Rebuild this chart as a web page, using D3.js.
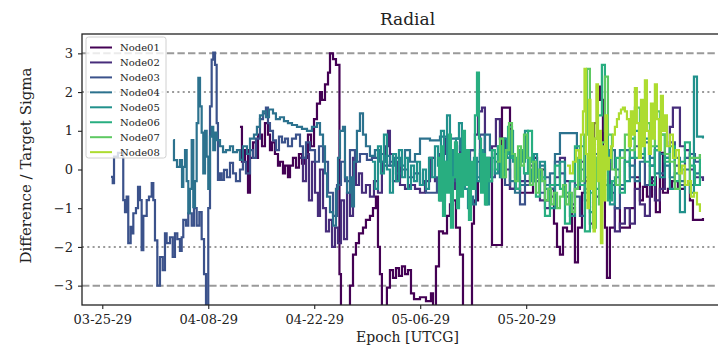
<!DOCTYPE html>
<html>
<head>
<meta charset="utf-8">
<script src="https://cdn.jsdelivr.net/npm/d3@7"></script>
<style>
  body { margin: 0; background: #fff; }
  svg { display: block; font-family: "DejaVu Serif", serif; }
</style>
</head>
<body>
<svg id="chart" width="718" height="360"></svg>
<script>
// Radial residuals (difference / target sigma) per node.
// Each point: [days since 2029-03-25 00:00 UTC, value]
const seriesNames = ["Node01", "Node02", "Node03", "Node04", "Node05", "Node06", "Node07", "Node08"];
const seriesColors = ["#440154", "#472d7b", "#3b528b", "#2c728e", "#21918c", "#28ae80", "#5ec962", "#addc30"];

const node01 = [
  [18.19,1.1],[18.45,0.2],[18.85,0.5],[19.25,-0.6],[19.51,0.3],[19.91,0.7],[20.3,0.3],[20.57,0.9],[21.1,0.6],[21.49,1.2],
  [21.89,0.9],[22.15,0.5],[22.42,0.7],[22.81,0.4],[23.21,0.1],[23.47,0.2],[23.87,-0.1],[24.14,0.1],[24.53,-0.2],[24.8,0.1],
  [25.19,0.3],[25.59,0.05],[25.98,0.4],[26.38,0.15],[26.78,0.3],[27.17,0.9],[27.57,0.6],[27.97,1.3],[28.36,1.7],[28.76,2.0],
  [29.02,1.8],[29.42,2.2],[29.82,2.5],[30.08,3.0],[30.48,2.85],[30.87,2.7],[31.33,-2.7],[31.53,-3.6],[32.59,-3.6],[32.72,-3.0],
  [33.12,-2.2],[33.51,-1.9],[33.91,-1.65],[34.44,-1.5],[34.83,-1.3],[35.36,-1.2],[35.76,-1.0],[36.15,-0.7],[36.42,-2.0],[36.68,-2.7],
  [36.94,-3.6],[37.47,-3.6],[37.6,-3.05],[38.0,-2.6],[38.4,-2.8],[38.8,-2.55],[39.19,-2.75],[39.59,-2.5],[39.99,-2.7],[40.38,-2.6],
  [40.78,-3.2],[41.18,-3.35],[41.97,-3.3],[42.76,-3.4],[43.42,-3.2],[43.69,-3.6],[44.08,-2.5],[44.48,-1.6],[45.01,-1.65],[45.54,-1.2],
  [45.93,-0.9],[46.33,-0.8],[46.72,-1.5],[47.25,-2.2],[47.65,-3.6],[48.57,-3.6],[48.84,-1.4],[49.1,-0.8],[49.63,-0.3],[50.16,0.2],
  [50.69,-0.4],[50.95,0.0],[51.48,-1.95],[52.8,1.6],[53.86,-0.5],[55.18,-0.6],[56.5,-0.6],[56.9,0.3],[57.43,-0.2],[57.82,0.0],
  [58.48,-0.8],[59.14,-0.5],[59.67,-1.4],[60.07,-2.0],[60.46,-2.2],[60.86,-1.5],[61.39,-1.6],[62.05,-1.0],[62.44,-2.4],[62.84,-1.5],
  [63.37,-0.6],[63.76,-0.3],[64.42,0.5],[64.95,1.2],[65.35,2.14],[65.74,1.8],[66.14,0.0],[66.4,-1.5],[66.67,-2.8],[67.06,-1.5],
  [67.72,-1.0],[68.38,-1.5],[69.7,-1.0],[70.36,-0.2],[71.02,-0.8],[71.42,-0.45],[71.95,-0.7],[72.61,-0.2],[73.13,-1.1],[73.66,0.43],
  [74.06,-0.6],[74.72,-0.5],[75.25,-0.3],[76.04,-0.5],[76.97,-0.4],[77.63,-0.8],[78.03,-1.3],[78.69,-1.3],[79.35,-1.25]
];

const node02 = [
  [26.12,0.3],[26.51,-0.3],[26.91,0.4],[27.3,-0.8],[27.7,0.2],[28.1,-0.6],[28.49,-1.2],[28.76,0.0],[29.16,-1.0],[29.55,-1.6],
  [29.95,-1.3],[30.35,-2.0],[30.74,-1.5],[31.14,-1.9],[31.53,-0.8],[31.93,-1.8],[32.33,-0.6],[32.72,-1.2],[33.12,0.3],[33.51,-0.4],
  [33.91,-0.1],[34.31,-0.6],[34.83,-0.4],[35.36,-0.7],[35.89,-0.3],[36.42,-0.6],[36.94,0.2],[37.34,0.6],[37.74,1.0],[38.0,0.4],
  [38.4,-0.3],[38.93,0.2],[39.33,-0.4],[39.99,-0.5],[40.65,-0.4],[41.31,-0.5],[41.97,-0.6],[42.63,-0.3],[43.29,0.3],[43.95,-0.3],
  [44.61,0.4],[45.27,0.8],[45.93,0.3],[46.59,-0.5],[47.25,0.6],[47.91,-0.2],[48.57,0.5],[49.23,0.9],[49.63,1.5],[50.16,1.6],
  [50.55,0.2],[50.95,-0.3],[51.48,0.6],[52.0,1.3],[52.53,0.8],[53.2,0.0],[53.86,-0.5],[54.52,0.2],[55.18,-0.3],[56.5,-0.2],
  [57.82,-0.8],[58.48,-1.0],[59.14,-0.7],[59.8,-0.2],[60.46,0.3],[61.12,-0.3],[61.78,-0.9],[62.44,-0.5],[63.1,0.2],[63.76,-0.8],
  [64.42,-1.4],[65.08,-0.7],[65.74,-0.5],[66.4,0.1],[67.06,-0.6],[67.72,-1.6],[68.38,-1.4],[69.04,-1.0],[69.7,-1.4],[70.36,-0.5],
  [71.02,-0.9],[71.68,-1.2],[72.34,-0.3],[73.0,-0.8],[73.66,-0.5],[74.32,0.4],[74.98,1.1],[75.38,1.6],[76.31,0.6],[76.97,0.5],
  [77.63,0.0],[78.29,-0.2],[79.35,-0.3]
];

const node03 = [
  [1.15,-0.19],[1.38,-0.35],[1.55,0.33],[2.07,0.43],[2.73,0.43],[2.77,-0.79],[3.0,-1.1],[3.22,-0.7],[3.43,-1.9],[3.75,-1.48],
  [4.01,-1.65],[4.1,-1.13],[4.45,-1.0],[4.72,-0.45],[4.98,-0.79],[5.2,-2.08],[5.42,-1.2],[5.87,-0.79],[6.17,-0.7],[6.53,-0.35],
  [6.74,-0.79],[6.96,-1.83],[7.27,-3.0],[7.62,-2.26],[7.98,-2.6],[8.28,-1.65],[8.5,-1.9],[8.94,-1.75],[9.3,-2.26],[9.6,-1.65],
  [9.91,-1.8],[10.26,-2.1],[10.49,-1.75],[10.7,-1.3],[11.06,-1.45],[11.36,-1.13],[11.81,-1.45],[12.11,-1.0],[12.47,-1.45],[12.82,-1.1],
  [13.13,-1.8],[13.44,-2.7],[13.7,-3.6],[14.0,-1.0],[14.23,1.63],[14.45,2.84],[14.66,3.02],[14.89,2.7],[15.11,1.2],[15.28,-0.27],
  [15.55,-0.1],[15.77,-0.27],[16.08,-0.01],[16.47,-0.2],[16.87,0.17],[17.27,-0.1],[17.66,-0.3],[18.19,0.0],[18.58,0.2],[18.98,-0.1],
  [19.51,0.5],[19.91,0.3],[20.3,0.8],[20.83,1.3],[21.23,1.45],[21.62,1.6],[21.89,1.2],[22.15,1.0],[22.55,0.75],[22.94,0.5],
  [23.34,0.85],[23.74,0.7],[24.14,0.8],[24.53,0.6],[25.06,0.8],[25.59,0.9],[26.12,0.6],[26.51,0.3],[26.91,0.7],[27.44,0.5],
  [28.1,0.2],[28.63,0.6],[29.16,0.2],[29.82,-0.6],[30.48,-1.2],[31.01,-0.4],[31.53,0.2],[32.06,-0.3],[32.72,0.5],[33.38,0.2],
  [34.04,0.4],[34.96,0.25],[35.62,0.3],[36.42,0.4],[37.21,0.1],[38.0,0.2],[38.8,-0.1],[39.59,0.0],[40.38,-0.2],[41.18,-0.1],
  [41.97,-0.4],[42.76,-0.6],[43.56,-0.6],[44.21,-0.2],[44.61,-0.8],[45.27,-0.5],[45.93,0.1],[46.59,-0.3],[47.25,0.4],[47.91,0.0],
  [48.57,0.5],[49.23,0.2],[49.89,0.9],[50.55,0.3],[51.21,-0.2],[51.87,0.4],[52.53,0.0],[53.2,-0.4],[53.86,0.3],[54.52,-0.2],
  [55.18,-0.9],[55.84,-0.4],[56.5,0.1],[57.16,-0.3],[57.82,-0.6],[58.48,-0.2],[59.14,-0.5],[59.8,0.2],[60.46,-0.1],[61.12,-0.7],
  [61.78,-0.3],[62.44,-0.7],[63.1,-1.2],[63.76,-0.5],[64.42,0.7],[65.08,0.3],[65.74,-0.3],[66.4,0.5],[67.06,-0.4],[67.72,-1.0],
  [68.38,-0.5],[69.04,0.2],[69.7,-0.2],[70.36,0.6],[71.02,0.3],[71.68,-0.4],[72.34,0.1],[73.0,0.5],[73.66,-0.1],[74.32,0.3],
  [74.98,0.7],[75.64,0.1],[76.31,-0.4],[76.97,0.3],[77.63,0.4],[78.29,0.2],[78.95,0.25]
];

const node04 = [
  [9.38,0.76],[9.47,0.24],[9.87,0.07],[10.26,0.24],[10.53,-0.45],[10.7,0.07],[10.93,0.5],[11.15,-0.3],[11.36,-1.13],[11.58,-0.5],
  [11.81,0.76],[12.02,-0.97],[12.25,-0.3],[12.47,1.2],[12.69,2.37],[12.91,1.63],[13.13,0.95],[13.34,-0.1],[13.57,1.0],[13.79,0.33],
  [14.0,-0.5],[14.23,0.85],[14.45,1.1],[14.66,0.5],[14.89,0.95],[15.15,0.76],[15.55,0.6],[15.95,0.45],[16.34,0.5],[16.87,0.6],
  [17.27,0.45],[17.79,0.5],[18.19,0.25],[18.58,0.6],[19.11,0.4],[19.51,0.8],[20.04,0.9],[20.43,1.1],[20.83,1.4],[21.23,1.5],
  [21.62,1.35],[22.02,1.55],[22.55,1.45],[22.94,1.3],[23.47,1.35],[24.0,1.25],[24.53,1.2],[25.06,1.15],[25.72,1.1],[26.38,1.05],
  [27.04,1.0],[27.7,1.1],[28.36,1.2],[28.76,0.9],[29.16,0.6],[29.42,-0.1],[29.69,-0.7],[30.08,-1.1],[30.48,-1.45],[30.87,-0.5],
  [31.14,0.3],[31.4,1.0],[31.8,1.1],[32.06,-0.2],[32.33,-0.6],[32.72,-0.2],[32.98,-0.95],[33.25,0.2],[33.64,1.0],[34.04,1.45],
  [34.44,0.9],[34.83,0.6],[35.36,0.35],[36.02,0.5],[36.68,0.2],[37.34,0.35],[38.0,0.1],[38.66,0.3],[39.33,0.1],[39.99,0.5],
  [40.65,0.2],[41.31,0.4],[41.97,0.8],[43.29,0.75],[44.61,0.85],[45.93,0.8],[47.25,0.5],[47.65,-0.3],[48.04,0.3],[48.57,-0.7],
  [48.97,-0.9],[49.36,-0.2],[49.89,0.4],[50.55,0.9],[51.21,0.5],[51.87,0.2],[52.53,-0.2],[53.2,0.3],[53.86,-0.3],[54.52,-0.6],
  [55.18,-0.4],[55.84,-0.1],[56.5,0.2],[57.16,-0.2],[57.82,0.1],[58.48,-0.4],[59.14,-0.1],[59.8,0.4],[60.46,0.94],[61.78,0.94],
  [62.7,0.5],[63.1,0.0],[63.76,-0.6],[64.42,-0.2],[65.08,0.4],[65.74,-0.5],[66.4,0.2],[67.06,0.5],[67.72,0.0],[68.38,-0.4],
  [69.04,0.5],[69.7,0.1],[70.36,-0.3],[71.02,0.2],[71.68,0.7],[72.34,0.3],[73.0,-0.1],[73.66,0.4],[74.32,0.1],[74.98,-0.2],
  [75.64,0.3],[76.31,-0.3],[76.97,0.0],[77.63,-0.4],[78.29,-0.1],[78.95,0.0]
];

const node05 = [
  [35.62,0.2],[36.02,-0.5],[36.42,0.6],[36.81,-0.1],[37.21,0.9],[37.6,0.0],[38.0,-0.6],[38.4,0.4],[38.8,-0.3],[39.19,0.5],
  [39.59,-0.2],[39.99,0.3],[40.38,-0.5],[40.78,0.1],[41.18,-0.3],[41.58,0.2],[41.97,-0.4],[42.37,0.0],[42.76,-0.5],[43.16,0.3],
  [43.56,-0.2],[43.95,0.6],[44.35,0.1],[44.74,1.0],[45.14,0.2],[45.54,1.4],[45.93,0.5],[46.33,-0.2],[46.72,0.8],[47.12,1.2],
  [47.51,0.4],[47.91,-0.5],[48.31,-1.0],[48.7,-0.4],[49.1,0.3],[49.5,-0.3],[49.89,0.5],[50.29,-0.2],[50.69,-0.9],[51.08,-0.3],
  [51.48,0.3],[51.87,-0.1],[52.27,0.6],[52.67,0.2],[53.07,0.8],[53.46,0.3],[53.86,1.0],[54.26,0.2],[54.65,-0.1],[55.05,0.5],
  [55.45,0.2],[55.84,1.0],[56.24,0.0],[56.64,-0.3],[57.03,0.4],[57.43,-0.2],[57.82,0.2],[58.48,-0.5],[59.14,-1.0],[59.8,-0.4],
  [60.46,0.2],[61.12,-0.6],[61.78,-1.2],[62.44,-0.4],[63.1,0.6],[63.76,-0.2],[64.42,-1.1],[65.08,-0.5],[65.74,0.3],[66.4,-0.4],
  [67.06,-0.9],[67.72,-0.2],[68.38,0.5],[69.04,-0.3],[69.7,0.3],[70.36,1.0],[71.02,0.4],[71.68,0.8],[72.34,0.1],[73.0,0.6],
  [73.66,-0.2],[74.32,0.3],[74.98,-0.5],[75.64,-0.1],[76.31,-1.1],[76.97,-0.4],[77.63,-0.6],[78.16,2.4],[78.56,0.85],[79.35,0.8]
];

const node06 = [
  [44.21,0.3],[44.48,-0.8],[44.74,0.6],[45.01,-1.2],[45.27,0.2],[45.54,-0.6],[45.8,0.9],[46.06,-1.5],[46.33,-0.2],[46.59,0.7],
  [46.86,-1.0],[47.12,0.4],[47.38,-0.7],[47.65,1.0],[47.91,-0.4],[48.17,0.5],[48.44,-1.3],[48.7,0.2],[48.97,-0.5],[49.23,1.4],
  [49.5,2.5],[49.76,0.8],[50.03,-0.6],[50.29,0.4],[50.55,-0.9],[50.82,0.3],[51.08,-0.3],[51.48,0.5],[51.87,0.0],[52.27,0.6],
  [52.67,-0.2],[53.07,0.4],[53.6,1.1],[54.12,0.3],[54.65,-0.5],[55.18,0.5],[55.71,-0.1],[56.24,1.0],[56.77,0.2],[57.29,-0.7],
  [57.82,-0.2],[58.48,-1.2],[59.14,-0.4],[59.8,0.1],[60.46,-0.5],[61.12,-1.4],[61.78,-0.3],[62.44,0.6],[63.1,-0.4],[63.76,-1.6],
  [64.42,-0.6],[65.08,0.8],[65.48,1.4],[66.0,2.7],[66.4,1.0],[66.8,-0.8],[67.33,-0.3],[67.86,0.3],[68.38,-0.6],[69.04,0.2],
  [69.7,0.8],[70.36,0.3],[71.02,1.0],[71.68,0.2],[72.34,-0.4],[73.0,0.5],[73.66,0.9],[74.32,0.2],[74.98,0.6],[75.64,-0.3],
  [76.31,0.2],[76.97,0.7],[77.63,0.1],[78.29,-0.4],[78.95,0.4]
];

const node07 = [
  [52.14,0.2],[52.53,0.8],[52.93,-0.2],[53.33,0.5],[53.73,1.2],[54.12,0.4],[54.52,-0.3],[54.92,0.6],[55.31,0.1],[55.71,0.9],
  [56.11,0.3],[56.5,-0.4],[56.9,0.2],[57.29,-0.6],[57.69,0.0],[58.09,-0.3],[58.48,-0.8],[58.88,-0.5],[59.28,-0.9],[59.67,-0.6],
  [60.07,-1.0],[60.46,-0.7],[60.86,-0.4],[61.26,-0.9],[61.65,-0.6],[62.05,-1.1],[62.44,-0.5],[62.84,0.3],[63.23,-0.3],[63.63,0.9],
  [64.03,2.6],[64.42,0.5],[64.82,-1.5],[65.21,0.3],[65.61,-0.9],[66.0,0.7],[66.4,2.4],[66.8,0.9],[67.33,0.0],[67.86,-0.4],
  [68.38,0.3],[69.04,0.9],[69.7,0.5],[70.36,1.6],[71.02,0.8],[71.68,1.2],[72.34,0.6],[73.0,1.5],[73.66,0.9],[74.32,0.4],
  [74.98,0.2],[75.64,-0.5],[76.31,0.0],[76.97,-0.4],[77.63,0.3],[78.29,0.3],[78.95,0.4]
];

const node08 = [
  [61.39,0.1],[61.78,-0.1],[62.18,0.2],[62.57,0.5],[62.97,0.3],[63.23,0.9],[63.5,1.5],[63.7,2.6],[63.89,0.4],[64.09,-1.0],
  [64.29,1.8],[64.49,-0.5],[64.69,1.2],[64.89,-1.6],[65.08,0.8],[65.28,2.2],[65.48,-0.3],[65.68,1.0],[65.87,-1.9],[66.07,0.6],
  [66.27,-0.8],[66.47,1.4],[66.67,0.0],[66.93,0.3],[67.2,0.6],[67.46,0.9],[67.72,1.1],[67.99,1.3],[68.25,1.45],[68.52,1.55],
  [68.78,1.6],[69.04,1.5],[69.31,1.3],[69.57,0.6],[69.83,1.5],[70.1,0.9],[70.36,2.1],[70.62,1.2],[70.89,0.3],[71.16,1.8],
  [71.42,0.6],[71.68,2.3],[71.95,1.0],[72.21,0.4],[72.48,1.7],[72.74,0.8],[73.0,2.2],[73.27,1.3],[73.53,0.5],[73.8,1.9],
  [74.06,1.0],[74.32,1.4],[74.59,0.6],[74.98,0.9],[75.38,0.3],[75.77,0.5],[76.17,-0.1],[76.57,0.1],[76.97,-0.4],[77.36,-0.3],
  [77.76,-0.7],[78.16,-0.6],[78.56,-0.9],[78.95,-1.1]
];

const yTickValues = [-3, -2, -1, 0, 1, 2, 3];
const xTickDates = ["2029-03-25", "2029-04-08", "2029-04-22", "2029-05-06", "2029-05-20"];
const dashedLevels = [3, -3];
const dottedLevels = [2, -2];
const yDomain = [-3.5, 3.5];
const xDomainDays = [-2.68, 83.32];

const allSeries = [node01, node02, node03, node04, node05, node06, node07, node08];

const dayMs = 864e5;
const epoch0 = Date.UTC(2029, 2, 25);
const toDate = d => new Date(epoch0 + d * dayMs);

const svg = d3.select("#chart");
const plot = { left: 82, right: 733, top: 34, bottom: 305 };

const x = d3.scaleUtc()
  .domain(xDomainDays.map(toDate))
  .range([plot.left, plot.right]);
const y = d3.scaleLinear()
  .domain(yDomain)
  .range([plot.bottom, plot.top]);

svg.append("defs").append("clipPath").attr("id", "plot-clip")
  .append("rect")
  .attr("x", plot.left).attr("y", plot.top)
  .attr("width", plot.right - plot.left).attr("height", plot.bottom - plot.top);

// reference sigma levels
const grid = svg.append("g");
grid.selectAll("line.dash").data(dashedLevels).join("line")
  .attr("x1", plot.left).attr("x2", plot.right)
  .attr("y1", d => y(d)).attr("y2", d => y(d))
  .attr("stroke", "#9a9a9a").attr("stroke-width", 2)
  .attr("stroke-dasharray", "7.4,3.2");
grid.selectAll("line.dot").data(dottedLevels).join("line")
  .attr("x1", plot.left).attr("x2", plot.right)
  .attr("y1", d => y(d)).attr("y2", d => y(d))
  .attr("stroke", "#9a9a9a").attr("stroke-width", 2)
  .attr("stroke-dasharray", "2,3.3");

// series
const line = d3.line()
  .x(d => x(toDate(d[0])))
  .y(d => y(d[1]))
  .curve(d3.curveStepAfter);

svg.append("g").attr("clip-path", "url(#plot-clip)")
  .selectAll("path").data(allSeries).join("path")
  .attr("d", line)
  .attr("fill", "none")
  .attr("stroke", (d, i) => seriesColors[i])
  .attr("stroke-width", 2.2)
  .attr("stroke-linejoin", "miter");

// axes
const fmtMinus = v => (v < 0 ? "\u2212" + Math.abs(v) : String(v));
const xAxis = d3.axisBottom(x)
  .tickValues(xTickDates.map(s => new Date(s + "T00:00:00Z")))
  .tickFormat(d3.utcFormat("%m-%d-%y"))
  .tickSizeOuter(0).tickSize(4).tickPadding(6);
const yAxis = d3.axisLeft(y)
  .tickValues(yTickValues)
  .tickFormat(fmtMinus)
  .tickSizeOuter(0).tickSize(4).tickPadding(5);

const gx = svg.append("g").attr("transform", `translate(0,${plot.bottom})`).call(xAxis);
const gy = svg.append("g").attr("transform", `translate(${plot.left},0)`).call(yAxis);
[gx, gy].forEach(g => {
  g.select(".domain").remove();
  g.selectAll(".tick line").attr("stroke", "#222").attr("stroke-width", 1.1);
  g.selectAll(".tick text").attr("fill", "#222").style("font-family", "DejaVu Serif")
    .style("font-size", "13px");
});

// frame
svg.append("rect")
  .attr("x", plot.left).attr("y", plot.top)
  .attr("width", plot.right - plot.left).attr("height", plot.bottom - plot.top)
  .attr("fill", "none").attr("stroke", "#222").attr("stroke-width", 1.3);

// title and axis labels
svg.append("text")
  .attr("x", (plot.left + plot.right) / 2).attr("y", 25)
  .attr("text-anchor", "middle").attr("fill", "#222")
  .style("font-size", "17px").text("Radial");
svg.append("text")
  .attr("x", (plot.left + plot.right) / 2).attr("y", 342)
  .attr("text-anchor", "middle").attr("fill", "#222")
  .style("font-size", "14px").text("Epoch [UTCG]");
svg.append("text")
  .attr("transform", `translate(31,${(plot.top + plot.bottom) / 2 - 4}) rotate(-90)`)
  .attr("text-anchor", "middle").attr("fill", "#222")
  .style("font-size", "15px").text("Difference / Target Sigma");

// legend
const legend = svg.append("g").attr("transform", "translate(86,37)");
legend.append("rect")
  .attr("width", 80).attr("height", 121).attr("rx", 2.5)
  .attr("fill", "#fff").attr("fill-opacity", 0.8)
  .attr("stroke", "#d0d0d0").attr("stroke-width", 1);
const rows = legend.selectAll("g.row").data(seriesNames).join("g")
  .attr("transform", (d, i) => `translate(0,${10.5 + i * 14.95})`);
rows.append("line")
  .attr("x1", 4).attr("x2", 26)
  .attr("stroke", (d, i) => seriesColors[i]).attr("stroke-width", 2);
rows.append("text")
  .attr("x", 34).attr("dy", "0.35em").attr("fill", "#222")
  .style("font-size", "10px").text(d => d);
</script>
</body>
</html>
